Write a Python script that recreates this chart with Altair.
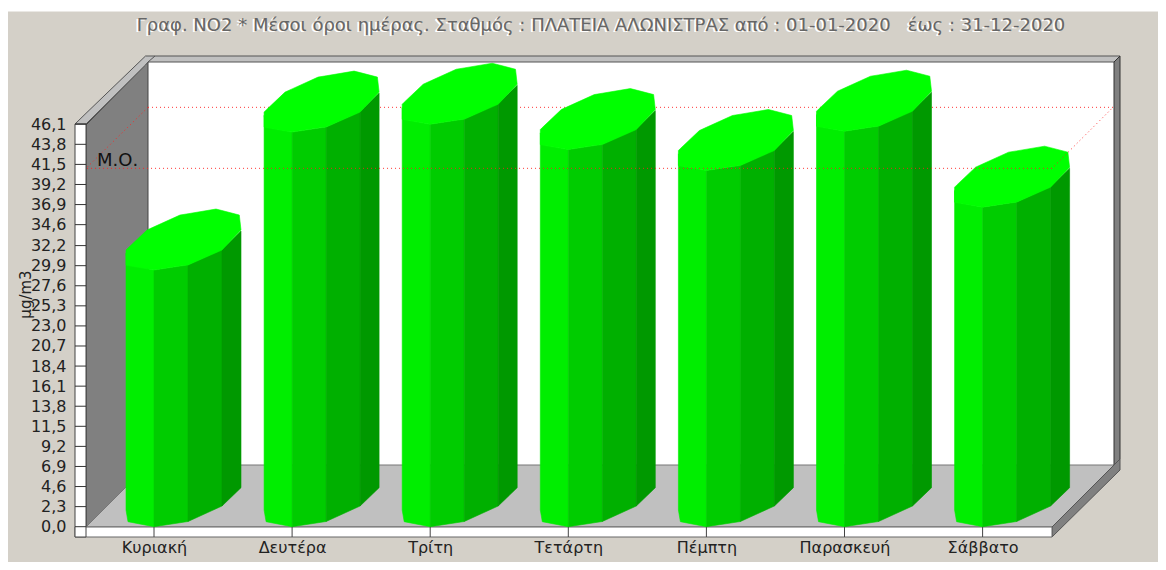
import altair as alt
import pandas as pd

# ---- chart values -------------------------------------------------------
DAYS = ["Κυριακή", "Δευτέρα", "Τρίτη", "Τετάρτη", "Πέμπτη", "Παρασκευή", "Σάββατο"]
VALUES = [29.4, 45.2, 46.1, 43.2, 40.8, 45.3, 36.6]
Y_TICKS = [0.0, 2.3, 4.6, 6.9, 9.2, 11.5, 13.8, 16.1, 18.4, 20.7, 23.0, 25.3,
           27.6, 29.9, 32.2, 34.6, 36.9, 39.2, 41.5, 43.8, 46.1]
MEAN_VALUE = 41.05
TITLE = ("Γραφ. NO2 * Μέσοι όροι ημέρας. Σταθμός : ΠΛΑΤΕΙΑ ΑΛΩΝΙΣΤΡΑΣ από : "
         "01-01-2020\u00a0\u00a0\u00a0έως : 31-12-2020")

FONT = "DejaVu Sans"
BG = "#d4d0c8"

# ---- page geometry, in pixels of the 1166x570 picture ---------------------
LEFT, RIGHT, TOP, BOTTOM = 75, 1121, 56, 537
CANVAS_RIGHT, CANVAS_BOTTOM = 1158, 562
X0, X_STEP = 154.0, 138.1      # first category, category spacing
Y0, Y_UNIT = 526.7, 8.73       # zero line, pixels per µg/m3


def cx(px):
    return (px - X0) / X_STEP


def vy(py):
    return (Y0 - py) / Y_UNIT


x_scale = alt.Scale(domain=[cx(LEFT), cx(RIGHT)], nice=False, zero=False)
y_scale = alt.Scale(domain=[vy(BOTTOM), vy(TOP)], nice=False, zero=False)

label_expr = "[" + ",".join(f"'{d}'" for d in DAYS) + "][datum.value]"
x_axis = alt.Axis(
    values=list(range(len(DAYS))), labelExpr=label_expr, domain=False, ticks=False, grid=False,
    title=None, labelFont=FONT, labelFontSize=16, labelColor="#222222", labelPadding=2,
    labelBaseline="top", labelOverlap=False)
y_axis = alt.Axis(
    values=Y_TICKS, labelExpr="replace(format(datum.value, '.1f'), '.', ',')",
    domain=False, ticks=False, grid=False, labelFont=FONT, labelFontSize=16, labelColor="#222222",
    labelPadding=9, labelOverlap=False, title="μg/m3", titleFont=FONT, titleFontSize=15,
    titleFontWeight="normal", titleColor="#222222", titleX=-42, titleY=238, titleAngle=270)


def X(field):
    return alt.X(field, type="quantitative", scale=x_scale, axis=x_axis)


def Y(field):
    return alt.Y(field, type="quantitative", scale=y_scale, axis=y_axis)


# ---- 3-D frame: panels as (x, top, bottom) -------------------------------
PANELS = [
    ("strip", "#ffffff", "#ffffff", [(8, 8, 11), (CANVAS_RIGHT, 8, 11)]),
    ("back", "#ffffff", "#ffffff", [(148, 62, 465), (1114, 62, 465)]),
    ("left", "#808080", "#444444", [(86, 125, 527), (148, 62, 465)]),
    ("floor", "#c0c0c0", "#777777", [(86, 527, 527), (148, 465, 527), (1052, 465, 527), (1114, 465, 465)]),
    ("top", "#c0c0c0", "#555555", [(75, 124, 124), (86, 113.3, 124), (145.5, 56, 65), (148, 56, 62), (1114, 56, 62), (1120, 56, 56)]),
    ("right", "#808080", "#333333", [(1114, 62, 465), (1120, 56, 459)]),
    ("side", "#808080", "#555555", [(1052, 527, 537), (1120, 459, 470)]),
    ("front", "#ffffff", "#666666", [(75, 527, 537), (1052, 527, 537)]),
    ("yband", "#ffffff", "#444444", [(75, 124, 537), (86, 124, 537)]),
]
panel_layers = []
for name, fill, stroke, pts in PANELS:
    df = pd.DataFrame([{"x": cx(a), "y": vy(b), "y2": vy(c)} for a, b, c in pts])
    panel_layers.append(
        alt.Chart(df).mark_area(color=fill, stroke=stroke, strokeWidth=1, interpolate="linear", opacity=1).encode(
            x=X("x"), y=Y("y"), y2="y2:Q")
    )

# corner crease of the top strip
crease = alt.Chart(pd.DataFrame({"x": [cx(148), cx(155)], "y": [vy(62), vy(56)]})).mark_line(
    color="#555555", strokeWidth=1).encode(x=X("x"), y=Y("y"))

# ---- axis rules ---------------------------------------------------------
y_ticks_df = pd.DataFrame({"v": Y_TICKS, "a": cx(75), "b": cx(86)})
y_tick_rules = alt.Chart(y_ticks_df).mark_rule(color="#333333", strokeWidth=1).encode(
    x=X("a"), x2="b:Q", y=Y("v"))

x_ticks_df = pd.DataFrame({"i": list(range(len(DAYS))), "a": 0.0, "b": vy(537)})
x_tick_rules = alt.Chart(x_ticks_df).mark_rule(color="#444444", strokeWidth=1).encode(
    x=X("i"), y=Y("a"), y2="b:Q")

# ---- red mean lines -----------------------------------------------------
DEPTH = 61 / Y_UNIT
back_df = pd.DataFrame({"x": [cx(148), cx(1113)], "y": [MEAN_VALUE + DEPTH] * 2, "o": [0, 1]})
front_df = pd.DataFrame({
    "x": [cx(148), cx(86), cx(1052), cx(1113)],
    "y": [MEAN_VALUE + DEPTH, MEAN_VALUE, MEAN_VALUE, MEAN_VALUE + DEPTH],
    "o": [0, 1, 2, 3],
})


def red(df):
    return alt.Chart(df).mark_line(color="#ff2020", strokeWidth=1, strokeDash=[1, 3], opacity=0.9).encode(
        x=X("x"), y=Y("y"), order="o:Q")


# ---- octagonal columns --------------------------------------------------
# profile of the column's foot, pixels from its front vertex: (dx, rise)
FOOT = [(-28, 16.7), (-26, 5), (0, 0), (34, 5.2), (68, 20.7), (87, 39)]
FACETS = [([0, 1, 2], "#00ee00"), ([2, 3], "#00cc00"), ([3, 4], "#00b000"), ([4, 5], "#009900")]
# top cap: dx, upper rise, lower rise
CAP = [(-28, 20, 5), (-26, 22, 4.5), (-7, 40, 1.2), (0, 43.2, 0), (26, 55, 4), (34, 56.3, 5),
       (62, 61, 17.4), (68, 59.5, 20), (85.3, 55, 38.2), (87, 40, 40)]

body_rows, cap_rows = [], []
for i, v in enumerate(VALUES):
    for f, (idx, color) in enumerate(FACETS):
        for k in idx:
            dx, rise = FOOT[k]
            r = rise / Y_UNIT
            body_rows.append({"id": f"{i}-{f}", "x": i + dx / X_STEP, "top": v + r, "bot": r, "c": color})
    for dx, up, low in CAP:
        cap_rows.append({"id": str(i), "x": i + dx / X_STEP, "top": v + up / Y_UNIT, "bot": v + low / Y_UNIT})

bodies = alt.Chart(pd.DataFrame(body_rows)).mark_area(interpolate="linear", opacity=1, strokeWidth=0.6).encode(
    x=X("x"), y=Y("top"), y2="bot:Q", detail="id:N",
    color=alt.Color("c:N", scale=None),
    stroke=alt.Stroke("c:N", scale=None),
)
caps = alt.Chart(pd.DataFrame(cap_rows)).mark_area(
    interpolate="linear", color="#00ff00", stroke="#00ff00", strokeWidth=0.6, opacity=1).encode(
    x=X("x"), y=Y("top"), y2="bot:Q", detail="id:N")

mo = alt.Chart(pd.DataFrame({"x": [cx(97)], "y": [vy(161)], "t": ["Μ.Ο."]})).mark_text(
    align="left", baseline="middle", font=FONT, fontSize=18, color="#111111").encode(
    x=X("x"), y=Y("y"), text="t:N")

shadow = alt.Chart(pd.DataFrame({"x": [cx(599)], "y": [vy(27)], "t": [TITLE]})).mark_text(
    align="center", baseline="middle", font=FONT, fontSize=18, color="#ffffff").encode(
    x=X("x"), y=Y("y"), text="t:N")

chart = alt.layer(
    *panel_layers, shadow, crease, red(back_df), y_tick_rules, x_tick_rules,
    bodies, caps, red(front_df), mo,
).properties(
    width=RIGHT - LEFT,
    height=BOTTOM - TOP,
    padding={"left": LEFT - 8, "top": TOP - 8, "right": CANVAS_RIGHT - RIGHT, "bottom": CANVAS_BOTTOM - BOTTOM},
    autosize=alt.AutoSizeParams(type="none", contains="content"),
    background=BG,
    title=alt.TitleParams(TITLE, font=FONT, fontSize=18, fontWeight="normal", color="#666666",
                          anchor="middle", frame="group", offset=-38, dx=3, baseline="middle"),
).configure_view(stroke=None)

chart.save("out.html", embed_options={"renderer": "svg", "actions": False})
